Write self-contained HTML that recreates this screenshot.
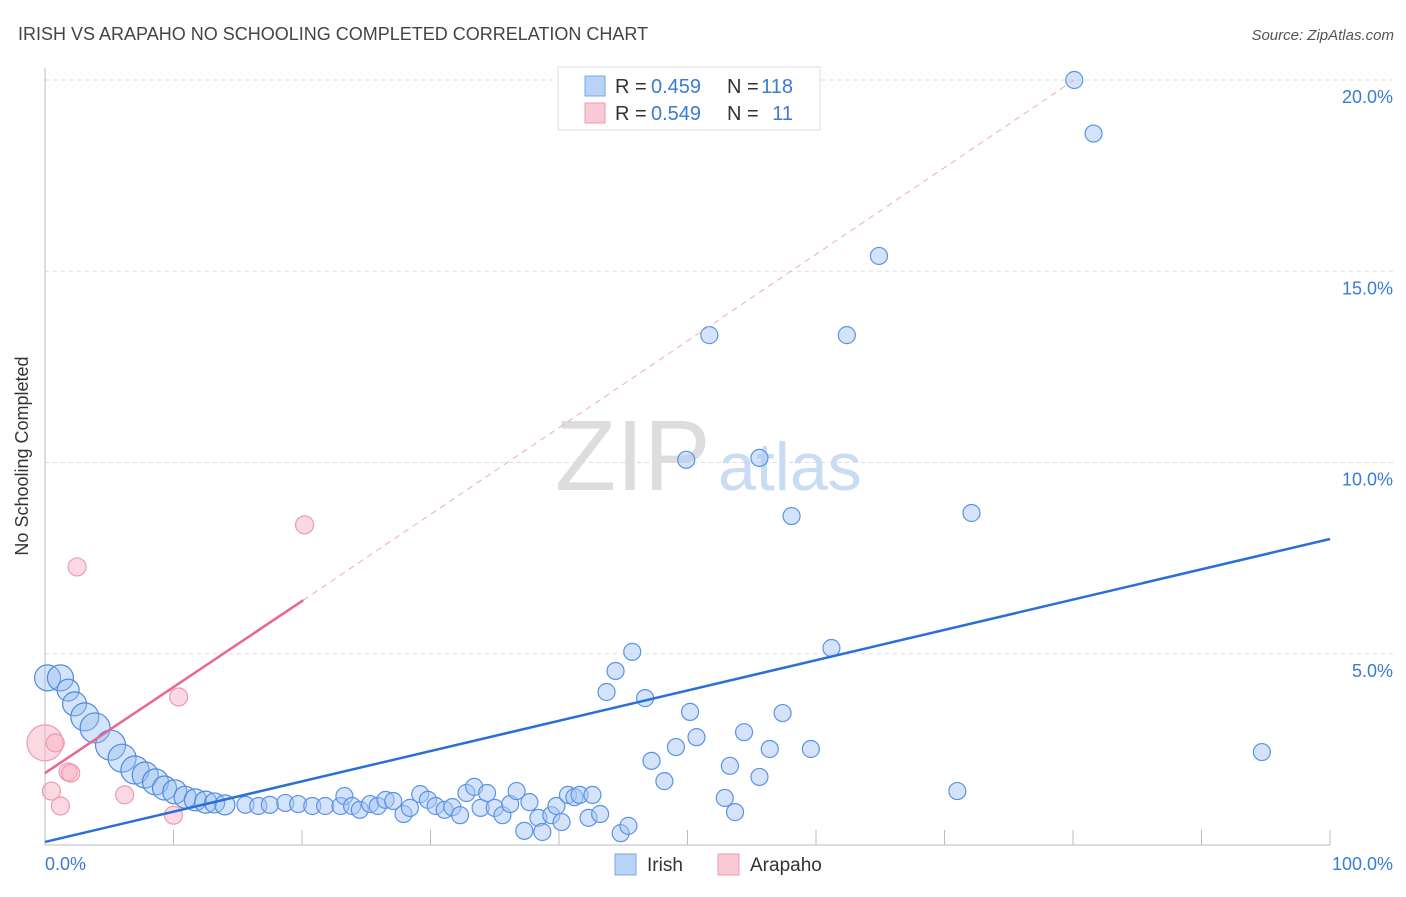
<!DOCTYPE html>
<html><head><meta charset="utf-8"><style>
body{margin:0;background:#fff;font-family:"Liberation Sans",sans-serif;}
svg text{font-family:"Liberation Sans",sans-serif;}
</style></head><body>
<svg width="1406" height="892" viewBox="0 0 1406 892">
<text x="18" y="40" font-size="18" fill="#444">IRISH VS ARAPAHO NO SCHOOLING COMPLETED CORRELATION CHART</text>
<text x="1394" y="40" font-size="15" fill="#555" font-style="italic" text-anchor="end">Source: ZipAtlas.com</text>
<g id="grid"></g>
<text x="555" y="490" font-size="100" fill="#ddd" font-family="Liberation Serif">ZIP</text>
<text x="718" y="490" font-size="68" fill="#c9dcf3">atlas</text>
<g id="marks"></g>
<text x="28" y="456" font-size="18" fill="#333" transform="rotate(-90 28 456)" text-anchor="middle">No Schooling Completed</text>
<text x="45" y="870" font-size="18" fill="#3a7bd5">0.0%</text>
<text x="1393" y="870" font-size="18" fill="#3a7bd5" text-anchor="end">100.0%</text>
<g>
<rect x="558" y="67" width="262" height="63" fill="#fff" stroke="#ddd"/>
<rect x="585" y="76" width="20" height="20" fill="#b8d3f5" stroke="#7aa7e6"/>
<rect x="585" y="103" width="20" height="20" fill="#f9c9d6" stroke="#ee9ab2"/>
<text x="615" y="93" font-size="20" fill="#333">R =</text>
<text x="651" y="93" font-size="20" fill="#3a7bd5">0.459</text>
<text x="727" y="93" font-size="20" fill="#333">N =</text>
<text x="793" y="93" font-size="20" fill="#3a7bd5" text-anchor="end">118</text>
<text x="615" y="120" font-size="20" fill="#333">R =</text>
<text x="651" y="120" font-size="20" fill="#3a7bd5">0.549</text>
<text x="727" y="120" font-size="20" fill="#333">N =</text>
<text x="793" y="120" font-size="20" fill="#3a7bd5" text-anchor="end">11</text>
</g>
<g>
<rect x="615" y="854" width="21" height="21" fill="#b8d3f5" stroke="#7aa7e6"/>
<text x="647" y="871" font-size="19" fill="#333">Irish</text>
<rect x="718" y="854" width="21" height="21" fill="#f9c9d6" stroke="#ee9ab2"/>
<text x="750" y="871" font-size="19" fill="#333">Arapaho</text>
</g>
</svg>
<script>
const yTicks=[5,10,15,20];
const yTickLabels=["5.0%","10.0%","15.0%","20.0%"];
const irishBigX=[0.2,1.2,1.8,2.3,3.1,3.9,5.1,6.0,7.0,7.8,8.6,9.3,10.1,10.9,11.7,12.5,13.2,14.0];
const irishBigY=[4.37,4.37,4.05,3.69,3.35,3.06,2.61,2.27,1.96,1.83,1.65,1.49,1.39,1.25,1.18,1.12,1.10,1.05];
const irishBigSize=[13,13,11,12,14,15,15,14,14,13,13,12,12,11,11,11,10,10];
const irishX=[15.6,16.6,17.5,18.7,19.7,20.8,21.8,23.0,23.3,23.9,24.5,25.3,25.9,26.5,27.1,27.9,28.4,29.2,29.8,30.4,31.1,31.7,32.3,32.8,33.4,33.9,34.4,35.0,35.6,36.2,36.7,37.3,37.7,38.4,38.7,39.4,39.8,40.2,40.7,41.2,41.6,42.3,42.6,43.2,43.7,44.4,44.8,45.4,45.7,46.7,47.2,48.2,49.1,49.9,50.2,50.7,51.7,52.9,53.3,53.7,54.4,55.6,55.6,56.4,57.4,58.1,59.6,61.2,62.4,64.9,71.0,72.1,80.1,81.6,94.7];
const irishY=[1.05,1.02,1.05,1.10,1.07,1.02,1.02,1.02,1.28,1.02,0.92,1.07,1.02,1.18,1.15,0.81,0.97,1.33,1.18,1.02,0.92,0.99,0.78,1.36,1.52,0.97,1.36,0.97,0.78,1.07,1.41,0.37,1.12,0.71,0.34,0.78,1.02,0.60,1.31,1.25,1.31,0.71,1.31,0.81,4.0,4.55,0.31,0.50,5.05,3.84,2.20,1.67,2.56,10.07,3.48,2.82,13.33,1.23,2.07,0.86,2.95,10.12,1.78,2.51,3.45,8.6,2.51,5.15,13.33,15.4,1.41,8.68,20.0,18.6,2.43];
const arapahoX=[0,0.8,0.5,1.2,1.8,2.0,2.5,6.2,10.0,10.4,20.2];
const arapahoY=[2.67,2.67,1.41,1.02,1.91,1.88,7.27,1.31,0.78,3.87,8.37];
const arapahoSize=[18,9,9,9,9,9,9,9,9,9,9];
const irishTrend=[[0,0.08],[100,8.0]];
const arapahoTrend=[[0,1.88],[20.1,6.4]];
const arapahoTrendExt=[[20.1,6.4],[80.1,20.0]];
const X=v=>45+v*12.85, Y=v=>845-v*38.25;
const NS="http://www.w3.org/2000/svg";
const grid=document.getElementById('grid'), marks=document.getElementById('marks');
function mk(tag,attrs,parent){const e=document.createElementNS(NS,tag);for(const k in attrs)e.setAttribute(k,attrs[k]);parent.appendChild(e);return e;}
yTicks.forEach((t,i)=>{
 const l=mk('line',{x1:45,x2:1393,y1:Y(t),y2:Y(t),stroke:'#ddd','stroke-dasharray':'4,4'},grid);
 
 
 const tx=mk('text',{x:1393,y:Y(t)+23,'font-size':18,fill:'#3a7bd5','text-anchor':'end'},grid);
 tx.textContent=yTickLabels[i];
 
 
});
const ax=mk('line',{x1:45,x2:1330,y1:845,y2:845,stroke:'#bbb'},grid);


const ay=mk('line',{x1:45,x2:45,y1:68,y2:845,stroke:'#bbb'},grid);


for(let i=1;i<=10;i++){const t=mk('line',{x1:X(i*10),x2:X(i*10),y1:830,y2:845,stroke:'#bbb'},grid);
 
 }
function dot(x,y,r,fill,stroke,name){const c=mk('circle',{cx:X(x),cy:Y(y),r:r,fill:fill,stroke:stroke,'stroke-width':1.2},marks);
 
 }
arapahoX.forEach((x,i)=>dot(x,arapahoY[i],arapahoSize[i],'rgba(248,180,200,0.5)','#ee9ab2','arapaho-point'));
irishBigX.forEach((x,i)=>dot(x,irishBigY[i],irishBigSize[i],'rgba(150,190,240,0.4)','#4f8ae0','irish-point'));
irishX.forEach((x,i)=>dot(x,irishY[i],8.5,'rgba(170,200,245,0.5)','#5b93e3','irish-point'));
function line(p,stroke,w,dash,name){const l=mk('line',{x1:X(p[0][0]),y1:Y(p[0][1]),x2:X(p[1][0]),y2:Y(p[1][1]),stroke:stroke,'stroke-width':w},marks);
 if(dash)l.setAttribute('stroke-dasharray',dash);
 
 }
line(irishTrend,'#2a6fd6',2.5,null,'irish-trend-line');
line(arapahoTrend,'#e8668f',2.5,null,'arapaho-trend-line');
line(arapahoTrendExt,'#efaabd',1,'6,5','arapaho-trend-extension');
</script>
</body></html>
